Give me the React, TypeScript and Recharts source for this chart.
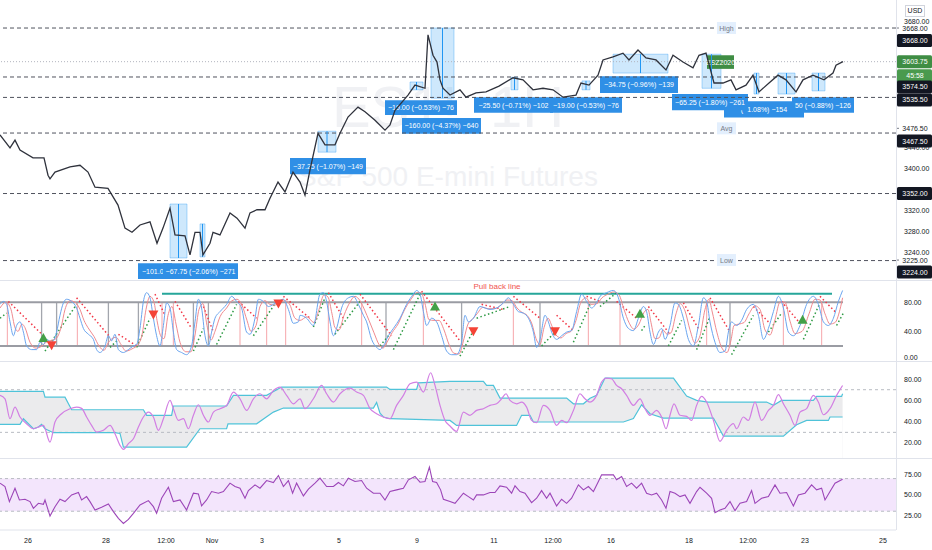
import React from 'react';
import {
  ComposedChart,
  Line,
  Area,
  XAxis,
  YAxis,
  ReferenceLine,
  ReferenceArea,
  ReferenceDot,
} from 'recharts';

const FONT = "'Liberation Sans', Arial, sans-serif";
const X_DOMAIN: [number, number] = [0, 448];

// time axis (bar index, 1 bar = 2px)
const timeTicks = [14, 53, 83, 106, 131, 169.5, 208.5, 247, 276.5, 305.5, 344.5, 374, 402.5, 441.5];
const timeLabels = ['26', '28', '12:00', 'Nov', '3', '5', '9', '11', '12:00', '16', '18', '12:00', '23', '25'];

// ---- price pane ----
const priceCloses: [number, number][] = [
  [0, 3464], [5, 3439], [7.5, 3454], [10, 3435], [16.5, 3420], [22, 3420], [24, 3387], [25, 3380],
  [27.5, 3393], [35, 3403], [40, 3406], [44, 3393], [47.5, 3364], [54, 3362], [59, 3330], [62.5, 3286],
  [66, 3278], [70, 3292], [75, 3298], [78.5, 3257], [81.5, 3286], [85, 3324], [87.5, 3273], [92.5, 3271],
  [95, 3235], [97.5, 3278], [100, 3278], [101.5, 3235], [105, 3257], [106.5, 3278], [110, 3273], [115, 3315],
  [118.5, 3305], [122.5, 3286], [125, 3315], [128.5, 3321], [132.5, 3321], [135, 3343], [139, 3374], [142.5, 3355],
  [146.5, 3393], [150, 3374], [152.5, 3349], [155, 3397], [159, 3467], [162.5, 3445], [167.5, 3445], [170, 3467],
  [174, 3498], [179, 3517], [182.5, 3508], [187.5, 3492], [192.5, 3473], [195, 3483], [197.5, 3511], [204, 3540],
  [207.5, 3559], [212.5, 3553], [214, 3655], [216.5, 3616], [218.5, 3603], [220, 3569], [221.5, 3553], [225, 3540],
  [230, 3550], [233, 3536], [238, 3544], [243, 3546], [249.5, 3557], [256.5, 3573], [261.5, 3569], [266.5, 3550],
  [271.5, 3553], [276.5, 3550], [281.5, 3536], [288, 3540], [290.5, 3563], [294.5, 3559], [299, 3578], [301.5, 3607],
  [306.5, 3613], [311.5, 3620], [314.5, 3607], [319, 3626], [323, 3611], [328, 3607], [333, 3588], [336.5, 3616],
  [341.5, 3603], [346.5, 3592], [349.5, 3616], [353, 3620], [357, 3563], [361.5, 3563], [365.5, 3569], [368, 3550],
  [373, 3559], [376.5, 3578], [379.5, 3546], [384.5, 3563], [389, 3578], [393, 3569], [398, 3546], [401.5, 3569],
  [406.5, 3578], [412, 3569], [416.5, 3582], [418, 3597], [421.5, 3603.75],
];
const priceTicks = [3720, 3680, 3440, 3400, 3320, 3280, 3240];
const dashedLevels = [3668, 3574.5, 3535.5, 3467.5, 3352, 3224];
const levelBadgeShift = [12.5, 10, 2.5, 8, 0, 11.5];
const lastPrice = 3603.75;
const countdown = '45:58';
const statLevels: [string, number][] = [['High', 3668], ['Avg', 3476.5], ['Low', 3225]];
const statTagBar = 363;

// measured ranges: [bar from, bar to, top, bottom]
const measureZones: [number, number, number, number][] = [
  [85, 93.5, 3332, 3229], [100, 102.5, 3294, 3231], [159, 168, 3471, 3431], [205, 211.5, 3565, 3550],
  [215.5, 227, 3668, 3534], [255.5, 259, 3574, 3550], [291, 295, 3567, 3550], [306.5, 334, 3618, 3582],
  [351, 360.5, 3618, 3553], [377, 379.5, 3582, 3542], [389, 397.5, 3582, 3542], [406, 412.5, 3582, 3548],
];
// measure labels: [bar from, bar to, top, bottom, text]
const measureLabels: [number, number, number, number, string][] = [
  [69, 86, 3219, 3189, '−101.0'],
  [81.5, 119, 3219, 3189, '−67.75 (−2.06%) −271'],
  [145, 183, 3420, 3389, '−37.25 (−1.07%) −149'],
  [192.5, 228.5, 3530, 3502, '−19.00 (−0.53%) −76'],
  [201, 240.5, 3496, 3466, '−160.00 (−4.37%) −640'],
  [237, 276.5, 3536, 3506, '−25.50 (−0.71%) −102'],
  [275, 311, 3536, 3506, '−19.00 (−0.53%) −76'],
  [300, 339, 3576, 3544, '−34.75 (−0.96%) −139'],
  [362, 402, 3528, 3497, '(−1.08%) −154'],
  [396, 427, 3536, 3506, '50 (−0.88%) −126'],
  [336, 374, 3542, 3511, '−65.25 (−1.80%) −261'],
];
const symbolTag: [number, number, number, number, string] = [353.5, 367, 3616, 3590, 'ESZ2020'];

// ---- stochastic pane ----
const stochK: [number, number][] = [
  [0, 77], [1.7, 81], [3.3, 77], [5, 53], [6.7, 34], [8.3, 48], [10, 53], [11.7, 39], [13.3, 20], [15.8, 15],
  [18.3, 15], [20, 25], [21.7, 22], [23.3, 29], [25.8, 25], [28.3, 39], [30, 62], [31.7, 79], [33.3, 84], [35.8, 81],
  [38.3, 72], [40, 58], [41.7, 44], [44.2, 36], [46.7, 29], [48.3, 15], [50, 11], [52.5, 20], [54.2, 34], [55.8, 27],
  [57.5, 36], [59.2, 15], [61.7, 11], [64.2, 15], [66.7, 20], [68.3, 22], [70, 44], [71.7, 81], [73.3, 93], [75, 86],
  [76.7, 58], [78.3, 34], [80, 20], [81.7, 48], [83.3, 79], [85, 72], [86.7, 39], [88.3, 15], [90.8, 11], [93.3, 8],
  [95.8, 20], [97.5, 53], [99.2, 84], [100.8, 72], [102.5, 34], [104.2, 20], [105.8, 39], [107.5, 58], [110, 67], [113.3, 77],
  [115.8, 88], [118.3, 81], [120.8, 72], [123.3, 39], [125, 36], [127.5, 58], [129.2, 84], [131.7, 81], [134.2, 74], [136.7, 77],
  [139.2, 81], [141.7, 84], [144.2, 70], [146.7, 51], [149.2, 53], [150, 62], [153.3, 58], [156.7, 48], [160, 91], [161.7, 93],
  [163.3, 81], [165, 53], [166.7, 34], [168.3, 44], [170.8, 72], [174.2, 86], [176.7, 88], [179.2, 77], [181.7, 62], [183.3, 53],
  [185.8, 29], [188.3, 18], [190, 15], [191.7, 20], [194.2, 34], [196.7, 44], [200, 58], [203.3, 77], [206.7, 91], [208.3, 96],
  [210, 91], [211.7, 67], [213.3, 48], [215.8, 58], [218.3, 53], [220.8, 34], [223.3, 13], [225.8, 8], [228.3, 8], [230.8, 25],
  [232.5, 62], [234.2, 53], [236.7, 58], [240, 74], [242.5, 72], [245, 70], [248.3, 72], [251.7, 79], [254.2, 86], [256.7, 77],
  [259.2, 67], [261.7, 65], [264.2, 58], [266.7, 39], [268.3, 18], [270, 29], [272.5, 62], [274.2, 53], [275.8, 39], [278.3, 29],
  [280.8, 34], [283.3, 39], [285.8, 41], [288.3, 67], [290.8, 91], [293.3, 81], [295.8, 72], [299.2, 84], [300, 88], [303.3, 93],
  [306.7, 96], [309.2, 86], [311.7, 58], [314.2, 44], [316.7, 41], [319.2, 58], [321.7, 74], [323.3, 67], [325, 39], [326.7, 22],
  [329.2, 39], [330.8, 44], [332.5, 29], [335, 48], [337.5, 79], [339.2, 77], [341.7, 58], [344.2, 29], [346.7, 20], [349.2, 48],
  [351.7, 86], [353.3, 81], [355, 53], [357.5, 25], [360, 11], [362.5, 13], [364.2, 39], [365.8, 53], [368.3, 48], [370.8, 55],
  [373.3, 70], [376.7, 77], [379.2, 62], [381.7, 29], [384.2, 44], [386.7, 67], [389.2, 88], [391.7, 72], [394.2, 39], [396.7, 34],
  [400, 48], [403.3, 77], [406.7, 88], [409.2, 77], [411.7, 53], [414.2, 48], [416.7, 58], [419.2, 81], [421.3, 96],
];
const stochD: [number, number][] = [
  [0, 72], [3, 80], [5.5, 70], [7.5, 45], [9, 40], [11, 50], [12.5, 45], [15, 25], [18, 17], [21, 20],
  [23, 25], [25, 27], [28, 30], [30.5, 45], [32.5, 70], [35, 82], [37.5, 80], [40, 70], [42, 55], [44, 45],
  [47, 33], [49.5, 20], [52, 14], [54, 24], [56, 30], [58, 32], [60.5, 22], [63, 13], [66, 16], [69, 22],
  [71, 35], [73, 70], [75, 88], [77, 80], [78.5, 55], [80.5, 33], [82, 30], [84, 62], [86, 74], [88, 50],
  [90, 25], [93, 12], [95.5, 12], [97.5, 35], [99.5, 70], [101.5, 78], [103.5, 48], [105.5, 28], [107.5, 40], [110, 60],
  [113.3, 72], [116, 82], [118.5, 84], [121, 76], [123.5, 55], [125.5, 40], [128, 48], [130, 74], [132.5, 82], [135, 77],
  [137.5, 76], [140, 80], [142.5, 82], [145, 76], [147.5, 58], [150, 55], [153.5, 60], [157, 52], [159.5, 70], [162, 90],
  [164, 87], [166, 64], [167.5, 45], [169.5, 42], [172, 62], [175, 80], [177.5, 88], [180, 82], [182.5, 68], [184.5, 55],
  [187, 38], [189.5, 22], [191.5, 17], [193.5, 25], [196, 38], [199, 50], [202, 68], [205.5, 84], [208.5, 93], [210.5, 93],
  [212.5, 78], [214.5, 56], [217, 55], [219.5, 55], [222, 42], [224.5, 22], [227, 10], [229.5, 9], [232, 30], [234, 50],
  [236, 56], [238.5, 64], [241.5, 73], [244, 71], [247, 71], [250.5, 76], [253.5, 83], [256, 82], [258.5, 72], [261, 66],
  [263.5, 62], [266, 50], [268, 30], [270, 22], [272, 45], [274, 58], [276, 47], [278, 35], [280.5, 31], [283, 37],
  [285.5, 40], [288, 55], [290.5, 80], [293, 86], [295.5, 77], [298.5, 78], [301, 86], [304, 91], [307, 94], [309.5, 90],
  [312, 70], [314.5, 52], [317, 43], [319.5, 50], [322, 66], [324, 70], [325.5, 52], [327.5, 30], [329.5, 31], [331.5, 42],
  [333.5, 36], [335.5, 38], [338, 64], [340, 78], [342.5, 68], [345, 42], [347.5, 24], [350, 34], [352.5, 70], [354.5, 84],
  [356, 68], [358.5, 38], [361, 17], [363.5, 11], [365.5, 28], [367, 48], [369.5, 50], [372, 52], [374.5, 64], [377.5, 75],
  [380, 70], [382.5, 42], [385, 35], [387.5, 56], [390, 80], [392.5, 80], [395, 54], [397.5, 37], [401, 40], [404.5, 64],
  [407.5, 84], [410, 83], [412.5, 64], [415, 50], [417.5, 52], [420, 70], [421.3, 86],
];
// trailing stop dots: [bar from, value, bar to, value]
const stopsDown: [number, number, number, number][] = [
  [4.2, 81, 21.7, 34], [38.3, 86, 55, 32], [59.2, 36, 68.3, 20], [77.5, 91, 82.5, 62], [87.5, 81, 95.8, 44],
  [101.7, 74, 106.7, 39], [119.2, 81, 128.3, 58], [141.7, 88, 155, 58], [164.2, 93, 171.7, 58], [180, 91, 195.8, 34],
  [210.8, 95, 230, 27], [240.8, 77, 251.7, 70], [256.7, 88, 270, 58], [278.3, 62, 286.7, 41], [293.3, 88, 300, 81],
  [308.3, 81, 318.3, 58], [324.2, 74, 335, 36], [341.7, 79, 349.2, 44], [355, 86, 365, 39], [376.7, 74, 384.2, 53],
  [390.8, 81, 400, 51], [410, 88, 418.3, 65],
];
const stopsUp: [number, number, number, number][] = [
  [0, 58, 3.3, 65], [22.5, 13, 38.3, 77], [55, 18, 59.2, 29], [68.3, 18, 75, 58], [96.7, 13, 101.7, 44],
  [108.3, 22, 118.3, 77], [126.7, 34, 138.3, 81], [156.7, 46, 162.5, 86], [167.5, 36, 180, 81], [190, 20, 194.2, 34],
  [196.7, 15, 210, 91], [230, 6, 236.7, 41], [238.3, 58, 255, 74], [270.8, 20, 278.3, 41], [286.7, 25, 295, 77],
  [300, 74, 308.3, 93], [320.8, 41, 322.5, 48], [334.2, 20, 340.8, 55], [348.3, 15, 355, 60], [365.8, 8, 376.7, 62],
  [384.2, 39, 390.8, 65], [401.7, 29, 410, 79], [418.3, 48, 421.7, 65],
];
const crossPink = [3.7, 38.7, 81, 86.7, 120, 133.3, 142.8, 164.2, 180.8, 211.7, 256.7, 294.2, 310, 353.3, 391.7, 410.8];
const crossGrey = [20.8, 28.3, 54.2, 69.2, 96.7, 104.2, 193, 230.8, 270, 365];
const buySignals: [number, number][] = [[21.7, 31], [217.5, 74], [320, 64], [401.3, 56]];
const sellSignals: [number, number][] = [[25.8, 21], [76.7, 63], [139.2, 78], [236.7, 40], [277.5, 40]];
const stochBounds = [80, 20];
const stochEnd = 421.5;
const pullBack: [number, number, number] = [81, 416, 91.5];

// ---- RSI with bands pane ----
const rsiB: [number, number][] = [
  [0, 64.7], [2.5, 61.5], [5, 42.8], [7.5, 53.7], [10, 44.4], [13.3, 38.1], [16.7, 33.4], [19.2, 35], [21.7, 36.5], [25, 20.9],
  [27.5, 39.7], [30.8, 47.5], [35, 52.2], [38.3, 53.7], [40.8, 52.5], [43.3, 44.4], [45.8, 36.5], [48.3, 30.3], [51.7, 31.9], [55, 36.5],
  [57.5, 28.7], [60, 17.8], [61.7, 14], [64.2, 19.4], [66.7, 24], [69.2, 35], [71.7, 44.4], [74.2, 49], [76.7, 44.4], [79.2, 31.9],
  [81.7, 42.8], [85, 60], [86.7, 52.2], [89.2, 41.2], [91.7, 42.8], [94.2, 33.4], [96.7, 46], [99.2, 55.9], [101.7, 46], [104.2, 39.7],
  [106.7, 49], [110, 52.2], [113.3, 55.3], [116.7, 67.8], [120, 61.5], [123.3, 50.6], [126.7, 61.5], [130, 66.2], [133.3, 61.5], [136.7, 69.3],
  [140, 72.5], [143.3, 64.7], [146.7, 56.8], [150, 61.5], [152.5, 52.2], [156.7, 61.5], [160.8, 74], [163.3, 66.2], [166.7, 58.4], [170, 66.2],
  [175, 71.5], [178.3, 67.8], [181.7, 64.7], [185, 52.2], [188.3, 47.5], [191.7, 44.4], [195, 42.8], [198.3, 55.3], [201.7, 64.7], [205, 75.6],
  [208.3, 77.2], [211.7, 67.8], [215.3, 85.9], [217.5, 74], [220, 55.3], [222.5, 41.2], [225, 36], [228.3, 30.9], [231.7, 49], [235, 46],
  [238.3, 50.6], [241.7, 52.2], [245, 55.3], [248.3, 56.8], [250.8, 61.5], [253, 66.2], [255, 60], [258.3, 56.8], [260.8, 58.4], [263.3, 53.7],
  [265.8, 41.2], [268.3, 39], [271.7, 55.3], [275, 50.6], [278.3, 36.5], [280.8, 41.2], [283.3, 39], [286.7, 50.6], [290, 66.2], [292.5, 61.5],
  [295, 58.4], [298.3, 64.7], [300.8, 77.2], [303.3, 80.9], [305.8, 80.3], [308.3, 74], [310.8, 70.9], [313.3, 64.7], [316.7, 55.3], [320, 61.5],
  [322.5, 52.2], [325, 46], [328.3, 50.6], [330.8, 44.4], [333, 33.4], [335, 46], [337, 56.8], [340, 46], [343.3, 45], [345.8, 41.2],
  [348.3, 55.3], [350.8, 63.7], [353.3, 58.4], [356.7, 41.2], [360, 21.5], [363.3, 31.9], [366.7, 38.1], [368.3, 33.4], [371.7, 44.4], [374.2, 41.2],
  [377.5, 58.4], [380.8, 41.2], [384.2, 50.6], [386.7, 55.3], [389.2, 65.3], [391.7, 56.8], [395, 46], [397.5, 36.5], [400, 49], [403.3, 52.2],
  [406.7, 64.7], [409.2, 58.4], [411.7, 46.5], [415, 52.2], [418.3, 64.7], [421.3, 74],
];
const bandUpper: [number, number][] = [
  [0, 68.4], [21.7, 68.4], [22.5, 63], [32.5, 63], [35.8, 51.2], [71.7, 51.2], [73.3, 46], [85.8, 46], [86.7, 54.7], [113.3, 54.7],
  [116.7, 64.7], [133.3, 64.7], [140.8, 72.5], [193.3, 72.5], [195, 70.3], [208.3, 70.3], [209.2, 76.5], [225, 77.8], [241.7, 77.8], [243.3, 74],
  [246.7, 74], [250, 62.2], [283.3, 62.2], [286.7, 56.8], [291.7, 56.8], [295, 62], [298.3, 64.7], [302.5, 80.9], [336.7, 80.9], [343.3, 64],
  [348.3, 60], [354, 58.4], [383.3, 58.4], [386.7, 55.3], [390.8, 60], [406.7, 60], [408.3, 63.7], [420.8, 63.7], [421.3, 66.2],
];
const bandLower: [number, number][] = [
  [0, 37.5], [10, 37.5], [11.7, 42.8], [16.7, 33.4], [19.2, 35], [20.8, 37.5], [22.5, 33.4], [26.7, 29.7], [57.5, 29.7], [60, 29],
  [61.7, 16.2], [93.3, 16.2], [100, 33.4], [113.3, 33.4], [114, 38], [128.3, 38], [136.7, 49], [141.7, 52.8], [186.7, 52.8], [188.3, 58],
  [190, 48], [191.7, 44.4], [195, 42.8], [225, 41.2], [228.3, 36.5], [258.3, 36.5], [260.8, 46], [265, 46], [266.7, 39.7], [311.7, 39.7],
  [316.7, 43], [320.8, 55.9], [325, 47.5], [331.7, 43.4], [356.7, 43.4], [361.7, 26.5], [391.7, 26.5], [398.3, 37.2], [403.3, 41.2], [414.2, 41.2],
  [415, 44.4], [421.3, 44.4],
];

// ---- RSI pane ----
const rsi: [number, number][] = [
  [0, 64.4], [2.5, 60.3], [4.7, 41.8], [7.5, 58.2], [9.7, 43.8], [12.5, 44.7], [15, 41.8], [16.7, 33.6], [19.2, 39.7], [21.7, 38.5],
  [22.5, 43.8], [25, 24.1], [27.5, 35.6], [30, 44.7], [32.5, 41.8], [35.8, 50], [39.2, 52.9], [40.8, 43.8], [43.3, 47.9], [45, 41.8],
  [47.5, 31.5], [50.8, 34.8], [54.2, 38.9], [56.7, 29.5], [59.2, 21.3], [61.7, 15.1], [64.2, 20], [66.7, 27.4], [70, 37.7], [74.2, 43],
  [76.7, 35.6], [78.3, 27.4], [80.8, 45.9], [84.2, 59.4], [86.7, 41.8], [90, 43.8], [93.3, 31.5], [96.7, 52.1], [99.2, 51.2], [100.8, 36.5],
  [103.3, 43.8], [105.8, 54.1], [109.2, 52.1], [111.7, 54.1], [115, 64.4], [117.5, 60.3], [120, 58.2], [122.5, 45.9], [124.2, 55.3], [127.5, 62.3],
  [130, 58.2], [133.3, 67.6], [136.7, 65.2], [139.2, 73.8], [141.7, 60.3], [144.2, 67.6], [146.3, 52.1], [148.3, 64.4], [151.7, 48.8], [154.2, 57],
  [157.5, 64.4], [160, 70.5], [163.3, 60.3], [166.7, 60.3], [169.2, 65.2], [171.7, 61.1], [174.2, 70.5], [177.5, 66.4], [180.8, 67.6], [183.3, 58.2],
  [186.7, 52.1], [190, 52.1], [192.5, 43.8], [195, 54.1], [198.3, 56.2], [201.7, 58.2], [204.2, 68.5], [207.5, 72.6], [210, 65.6], [212.5, 66.4],
  [214.7, 84.1], [216.3, 66.4], [218.3, 65.2], [220.3, 56.2], [221.7, 44.7], [225, 41.8], [227.5, 39.7], [231.7, 52.1], [234.2, 47.9], [236.7, 43.8],
  [238.3, 50], [241.7, 50], [245, 52.9], [247.5, 52.9], [250, 61.1], [253.3, 59.4], [255.8, 52.1], [257.5, 61.1], [260, 54.1], [262.5, 52.1],
  [265.8, 40.6], [268.3, 45.9], [270.8, 55.3], [273.3, 45.9], [275, 52.1], [278.3, 36.5], [280.8, 44.7], [283.3, 39.7], [285.8, 45.9], [289.2, 62.3],
  [291.7, 56.2], [294.2, 60.3], [296.7, 54.1], [299.2, 66.4], [300.8, 74.6], [304.2, 74.6], [306.7, 74.6], [308.3, 68.5], [310.8, 72.6], [313.3, 60.3],
  [315.8, 64.4], [318.3, 58.2], [320.8, 64.4], [323.3, 52.1], [325.8, 50], [328.3, 52.1], [330.8, 43.8], [333, 33.6], [335, 54.1], [337.5, 52.1],
  [340, 47.9], [342.5, 50], [345, 39.7], [348.3, 54.1], [350, 59.4], [353.3, 52.1], [355.8, 45.9], [357.5, 28.2], [360, 31.5], [362.5, 33.6],
  [365, 41.8], [367.5, 30.7], [370, 39.7], [373.3, 41.8], [375.8, 55.3], [377.5, 39.7], [380.8, 45.9], [384.2, 48], [387.5, 62.3], [390, 52.1],
  [393.3, 52.9], [396.7, 36.5], [399.2, 50], [402.5, 52.1], [405.8, 62.3], [408.3, 56.2], [410.8, 58.2], [412.5, 43.8], [415, 54.1], [417.5, 64.4],
  [421.3, 69.3],
];
const rsiBounds = [70, 30];

// ---------- helpers ----------
type Row = { bar: number; [k: string]: number };
function buildTable(series: Record<string, [number, number][]>): Row[] {
  const rows = new Map<number, Row>();
  Object.entries(series).forEach(([key, pts]) => {
    pts.forEach(([bar, v]) => {
      const r = rows.get(bar) || { bar };
      r[key] = v;
      rows.set(bar, r);
    });
  });
  return Array.from(rows.values()).sort((a, b) => a.bar - b.bar);
}

const axisTick = { fontSize: 7, fill: '#131722', fontFamily: FONT };

const AxisBadge = (props: any) => {
  const { viewBox, text, bg, fg = '#fff', shift = 0, border } = props;
  if (!viewBox) return null;
  const x = viewBox.x + viewBox.width + 1;
  const y = viewBox.y + shift;
  return (
    <g>
      {border && <line x1={x - 1} x2={x + 2} y1={y} y2={y} stroke="#787b86" />}
      <rect x={x + (border ? 3 : 0)} y={y - 6.5} width={border ? 32 : 35} height={13} rx={1.5} fill={bg} />
      <text x={x + 18} y={y + 2.5} textAnchor="middle" fontSize={7} fill={fg} fontFamily={FONT}>
        {text}
      </text>
    </g>
  );
};

const BoxText = (props: any) => {
  const { viewBox, text, start } = props;
  if (!viewBox) return null;
  const { x, y, width, height } = viewBox;
  return (
    <text
      x={start ? x + 4 : x + width / 2}
      y={y + height / 2 + 2.5}
      textAnchor={start ? 'start' : 'middle'}
      fontSize={7}
      fill="#fff"
      fontFamily={FONT}
    >
      {text}
    </text>
  );
};

const PullBackText = (props: any) => {
  const { viewBox } = props;
  if (!viewBox) return null;
  return (
    <text x={viewBox.x + viewBox.width / 2} y={viewBox.y - 5} textAnchor="middle" fontSize={8} fill="#f05350" fontFamily={FONT}>
      Pull back line
    </text>
  );
};

const Tri = ({ cx, cy, up }: { cx: number; cy: number; up: boolean }) =>
  up ? (
    <path d={`M${cx},${cy - 5} L${cx + 5},${cy + 4} L${cx - 5},${cy + 4} Z`} fill="#43a047" />
  ) : (
    <path d={`M${cx - 5},${cy - 4} L${cx + 5},${cy - 4} L${cx},${cy + 5} Z`} fill="#f44336" />
  );

const StatTag = ({ cx, cy, text }: any) => (
  <g>
    <rect x={cx - 9} y={cy - 6} width={19} height={12} fill="#e3effd" />
    <text x={cx + 0.5} y={cy + 2.5} textAnchor="middle" fontSize={7} fill="#787b86" fontFamily={FONT}>
      {text}
    </text>
  </g>
);

const priceData = buildTable({ close: priceCloses });
const stochData = buildTable({ k: stochK, d: stochD });
const bandData = buildTable({ rsi: rsiB, up: bandUpper, lo: bandLower });
const rsiData = buildTable({ rsi });

const W = 932;
const AXIS_W = 36;
const margin = { top: 0, right: 0, bottom: 0, left: 0 };

const App: React.FC = () => {
  return (
    <div style={{ position: 'absolute', left: 0, top: 0, width: 932, height: 550, background: '#fff', overflow: 'hidden', fontFamily: FONT }}>
      {/* watermark */}
      <div style={{ position: 'absolute', left: 0, width: 896, top: 72, textAlign: 'center', fontSize: 58, color: '#f0f1f4', lineHeight: '70px' }}>
        ES1!, 1H
      </div>
      <div style={{ position: 'absolute', left: 0, width: 896, top: 160, textAlign: 'center', fontSize: 28, color: '#f0f1f4', lineHeight: '34px' }}>
        S&amp;P 500 E-mini Futures
      </div>

      {/* price pane */}
      <div style={{ position: 'absolute', left: 0, top: 0 }}>
        <ComposedChart width={W} height={281} data={priceData} margin={margin}>
          <XAxis dataKey="bar" type="number" domain={X_DOMAIN} hide allowDataOverflow />
          <YAxis
            orientation="right"
            width={AXIS_W}
            domain={[3185, 3721.5]}
            ticks={priceTicks}
            tick={axisTick}
            tickFormatter={(v: number) => v.toFixed(2)}
            tickLine={false}
            axisLine={false}
            allowDataOverflow
          />
          <ReferenceLine y={lastPrice} stroke="#b2b5be" strokeDasharray="1 2" />
          {dashedLevels.map((lv) => (
            <ReferenceLine key={lv} y={lv} stroke="#50535e" strokeDasharray="4 3" />
          ))}
          {measureZones.map(([b1, b2, top, bot], i) => (
            <ReferenceArea key={'z' + i} x1={b1} x2={b2} y1={bot} y2={top} fill="#2196f3" fillOpacity={0.22} stroke="#2196f3" strokeOpacity={0.35} />
          ))}
          {measureZones.map(([b1, b2, top, bot], i) => (
            <ReferenceLine
              key={'m' + i}
              segment={[{ x: (b1 + b2) / 2, y: top }, { x: (b1 + b2) / 2, y: bot }]}
              stroke="#2196f3"
              strokeWidth={1}
            />
          ))}
          <Line dataKey="close" type="linear" stroke="#2f323c" strokeWidth={1.3} dot={false} activeDot={false} isAnimationActive={false} connectNulls />
          {measureLabels.map(([b1, b2, top, bot, text], i) => (
            <ReferenceArea
              key={'l' + i}
              x1={b1}
              x2={b2}
              y1={bot}
              y2={top}
              fill="#2f8fe6"
              fillOpacity={1}
              label={<BoxText text={text} start={i === 0} />}
            />
          ))}
          <ReferenceArea
            x1={symbolTag[0]}
            x2={symbolTag[1]}
            y1={symbolTag[3]}
            y2={symbolTag[2]}
            fill="#3f8d44"
            fillOpacity={1}
            label={<BoxText text={symbolTag[4]} />}
          />
          {statLevels.map(([name, lv]) => (
            <ReferenceDot key={name} x={statTagBar} y={lv} r={0} shape={(p: any) => <StatTag cx={p.cx} cy={p.cy} text={name} />} />
          ))}
          {statLevels.map(([name, lv]) => (
            <ReferenceLine
              key={'s' + name}
              y={lv}
              stroke="none"
              label={<AxisBadge text={lv.toFixed(2)} bg="#fff" fg="#131722" border />}
            />
          ))}
          <ReferenceLine y={lastPrice} stroke="none" label={<AxisBadge text={lastPrice.toFixed(2)} bg="#3f8d44" />} />
          <ReferenceLine y={lastPrice} stroke="none" label={<AxisBadge text={countdown} bg="#4a9a4e" shift={14} />} />
          {dashedLevels.map((lv, i) => (
            <ReferenceLine key={'b' + lv} y={lv} stroke="none" label={<AxisBadge text={lv.toFixed(2)} bg="#131722" shift={levelBadgeShift[i]} />} />
          ))}
        </ComposedChart>
      </div>

      {/* stochastic pane */}
      <div style={{ position: 'absolute', left: 0, top: 281 }}>
        <ComposedChart width={W} height={81} data={stochData} margin={margin}>
          <XAxis dataKey="bar" type="number" domain={X_DOMAIN} hide allowDataOverflow />
          <YAxis
            orientation="right"
            width={AXIS_W}
            domain={[-2, 109]}
            ticks={[80, 40, 0]}
            tick={axisTick}
            tickFormatter={(v: number) => v.toFixed(2)}
            tickLine={false}
            axisLine={false}
            allowDataOverflow
          />
          {crossPink.map((b) => (
            <ReferenceLine key={'p' + b} segment={[{ x: b, y: stochBounds[1] }, { x: b, y: stochBounds[0] }]} stroke="#f7b4b8" strokeWidth={1.2} />
          ))}
          {crossGrey.map((b) => (
            <ReferenceLine key={'g' + b} segment={[{ x: b, y: stochBounds[1] }, { x: b, y: stochBounds[0] }]} stroke="#a3a6ad" strokeWidth={1.3} />
          ))}
          {stochBounds.map((v) => (
            <ReferenceLine key={'h' + v} segment={[{ x: 0, y: v }, { x: stochEnd, y: v }]} stroke="#9a9ca3" strokeWidth={2} />
          ))}
          <ReferenceLine
            segment={[{ x: pullBack[0], y: pullBack[2] }, { x: pullBack[1], y: pullBack[2] }]}
            stroke="#26a69a"
            strokeWidth={2}
            label={<PullBackText />}
          />
          {stopsDown.map(([b1, v1, b2, v2], i) => (
            <ReferenceLine key={'sd' + i} segment={[{ x: b1, y: v1 }, { x: b2, y: v2 }]} stroke="#f23645" strokeWidth={1.5} strokeDasharray="1.5 2.5" />
          ))}
          {stopsUp.map(([b1, v1, b2, v2], i) => (
            <ReferenceLine key={'su' + i} segment={[{ x: b1, y: v1 }, { x: b2, y: v2 }]} stroke="#2e9a44" strokeWidth={1.5} strokeDasharray="1.5 2.5" />
          ))}
          <Line dataKey="d" type="monotone" stroke="#f08a8f" strokeWidth={1} dot={false} isAnimationActive={false} connectNulls />
          <Line dataKey="k" type="monotone" stroke="#6aa5f0" strokeWidth={1} dot={false} isAnimationActive={false} connectNulls />
          {buySignals.map(([b, v], i) => (
            <ReferenceDot key={'bs' + i} x={b} y={v} r={0} shape={(p: any) => <Tri cx={p.cx} cy={p.cy} up />} />
          ))}
          {sellSignals.map(([b, v], i) => (
            <ReferenceDot key={'ss' + i} x={b} y={v} r={0} shape={(p: any) => <Tri cx={p.cx} cy={p.cy} up={false} />} />
          ))}
        </ComposedChart>
      </div>

      {/* RSI + bands pane */}
      <div style={{ position: 'absolute', left: 0, top: 362 }}>
        <ComposedChart width={W} height={97} data={bandData} margin={margin}>
          <XAxis dataKey="bar" type="number" domain={X_DOMAIN} hide allowDataOverflow />
          <YAxis
            orientation="right"
            width={AXIS_W}
            domain={[5, 96]}
            ticks={[80, 60, 40, 20]}
            tick={axisTick}
            tickFormatter={(v: number) => v.toFixed(2)}
            tickLine={false}
            axisLine={false}
            allowDataOverflow
          />
          <Area dataKey="up" type="linear" stroke="none" fill="#ebebed" fillOpacity={1} baseValue={5} connectNulls isAnimationActive={false} />
          <Area dataKey="lo" type="linear" stroke="none" fill="#ffffff" fillOpacity={1} baseValue={5} connectNulls isAnimationActive={false} />
          {rsiBounds.map((v) => (
            <ReferenceLine key={v} y={v} stroke="#b8bbc2" strokeDasharray="3 3" />
          ))}
          <Line dataKey="up" type="linear" stroke="#4fc3d9" strokeWidth={1.2} dot={false} isAnimationActive={false} connectNulls />
          <Line dataKey="lo" type="linear" stroke="#4fc3d9" strokeWidth={1.2} dot={false} isAnimationActive={false} connectNulls />
          <Line dataKey="rsi" type="monotone" stroke="#d27fe3" strokeWidth={1.2} dot={false} isAnimationActive={false} connectNulls />
        </ComposedChart>
      </div>

      {/* RSI pane + time axis */}
      <div style={{ position: 'absolute', left: 0, top: 459 }}>
        <ComposedChart width={W} height={91} data={rsiData} margin={margin}>
          <XAxis
            dataKey="bar"
            type="number"
            domain={X_DOMAIN}
            ticks={timeTicks}
            tickFormatter={(v: number) => timeLabels[timeTicks.indexOf(v)] ?? ''}
            tick={axisTick}
            tickLine={false}
            axisLine={{ stroke: '#e0e3eb' }}
            height={20}
            interval={0}
            allowDataOverflow
          />
          <YAxis
            orientation="right"
            width={AXIS_W}
            domain={[7, 94]}
            ticks={[75, 50, 25]}
            tick={axisTick}
            tickFormatter={(v: number) => v.toFixed(2)}
            tickLine={false}
            axisLine={false}
            allowDataOverflow
          />
          <ReferenceArea y1={rsiBounds[1]} y2={rsiBounds[0]} fill="#f3e5fc" fillOpacity={1} stroke="none" />
          {rsiBounds.map((v) => (
            <ReferenceLine key={v} y={v} stroke="#b8bbc2" strokeDasharray="3 3" />
          ))}
          <Line dataKey="rsi" type="linear" stroke="#9c45b8" strokeWidth={1.1} dot={false} isAnimationActive={false} connectNulls />
        </ComposedChart>
      </div>

      {/* pane separators and scale border */}
      {[281, 362, 459].map((y) => (
        <div key={y} style={{ position: 'absolute', left: 0, top: y - 1, width: 932, height: 1, background: '#e0e3eb' }} />
      ))}
      <div style={{ position: 'absolute', left: 896, top: 0, width: 1, height: 530, background: '#e0e3eb' }} />
      <div
        style={{
          position: 'absolute',
          left: 905,
          top: 5,
          width: 18,
          height: 10,
          border: '1px solid #d1d4dc',
          background: '#fff',
          fontSize: 7,
          lineHeight: '10px',
          textAlign: 'center',
          color: '#131722',
        }}
      >
        USD
      </div>
    </div>
  );
};

export default App;
